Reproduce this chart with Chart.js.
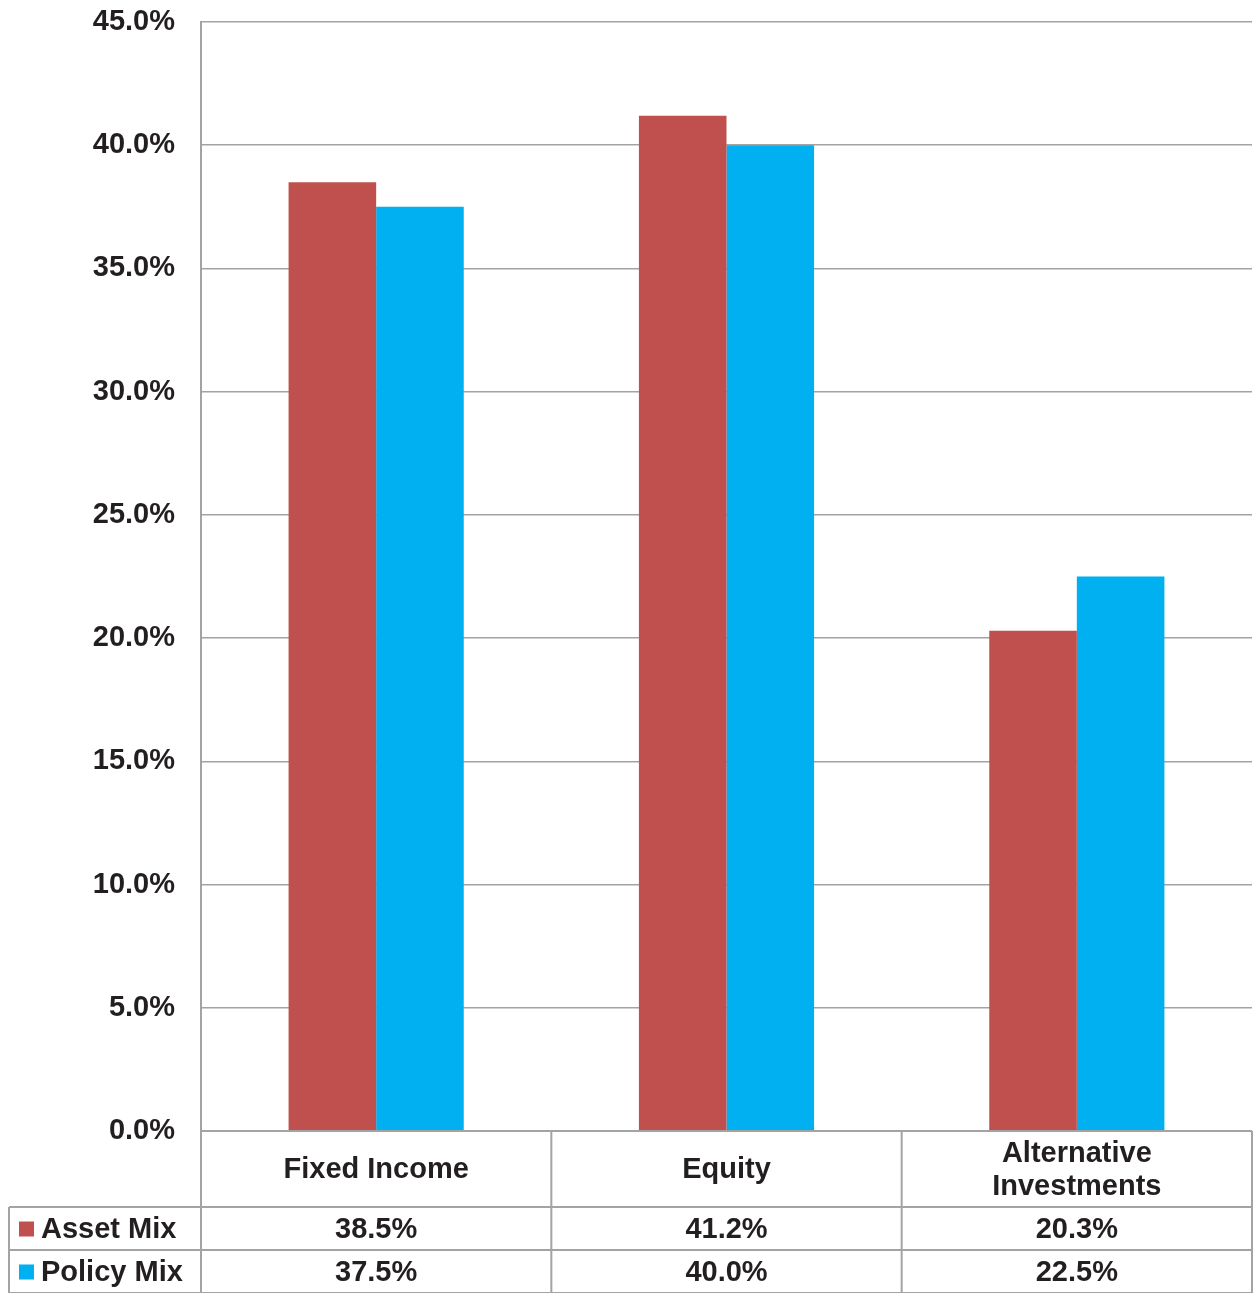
<!DOCTYPE html>
<html>
<head>
<meta charset="utf-8">
<script src="https://cdn.jsdelivr.net/npm/chart.js@4.4.1/dist/chart.umd.min.js"></script>
<style>
html,body{margin:0;padding:0;background:#fff;}
#wrap{position:relative;width:1257px;height:1293px;}
</style>
</head>
<body>
<div id="wrap"><canvas id="c"></canvas></div>
<script>
const categories = [["Fixed Income"], ["Equity"], ["Alternative", "Investments"]];
const seriesNames = ["Asset Mix", "Policy Mix"];
const assetMix = [38.5, 41.2, 20.3];
const policyMix = [37.5, 40.0, 22.5];
const seriesColors = ["#C0504D", "#00B0F0"];
const yMin = 0, yMax = 45, yStep = 5;

const FONT = "bold 29px 'Liberation Sans', Arial, sans-serif";
const TEXT = "#231F20";
const LINE = "#A3A3A3";

const tablePlugin = {
  id: 'dataTable',
  afterDraw(chart) {
    const ctx = chart.ctx;
    const area = chart.chartArea;
    const x = chart.scales.x;
    const top = area.bottom;
    const headerH = 76, rowH = 43;
    const leftX = 9;
    const rows = [assetMix, policyMix];
    const bottom = top + headerH + rowH * 2;
    const catW = (area.right - area.left) / categories.length;
    ctx.save();
    ctx.strokeStyle = LINE;
    ctx.lineWidth = 2;
    ctx.beginPath();
    ctx.moveTo(area.left, top); ctx.lineTo(area.right, top);
    for (let r = 0; r < 3; r++) {
      const y = top + headerH + r * rowH;
      ctx.moveTo(leftX, y); ctx.lineTo(area.right, y);
    }
    for (let i = 0; i <= categories.length; i++) {
      const vx = area.left + i * catW;
      ctx.moveTo(vx, top); ctx.lineTo(vx, bottom);
    }
    ctx.moveTo(leftX, top + headerH); ctx.lineTo(leftX, bottom);
    ctx.stroke();

    ctx.fillStyle = TEXT;
    ctx.font = FONT;
    ctx.textAlign = 'center';
    ctx.textBaseline = 'middle';
    categories.forEach((lines, i) => {
      const cx = x.getPixelForValue(i);
      const cy = top + headerH / 2 + 1;
      const lh = 33;
      lines.forEach((t, k) => {
        ctx.fillText(t, cx, cy + (k - (lines.length - 1) / 2) * lh);
      });
    });
    rows.forEach((vals, r) => {
      const cy = top + headerH + r * rowH + rowH / 2 + 1;
      vals.forEach((v, i) => {
        ctx.fillText(v.toFixed(1) + '%', x.getPixelForValue(i), cy);
      });
      ctx.fillStyle = seriesColors[r];
      ctx.fillRect(19, cy - 8, 15, 15);
      ctx.fillStyle = TEXT;
      ctx.textAlign = 'left';
      ctx.fillText(seriesNames[r], 41, cy);
      ctx.textAlign = 'center';
    });
    ctx.restore();
  }
};

new Chart(document.getElementById('c'), {
  type: 'bar',
  data: {
    labels: categories.map(c => c.join(' ')),
    datasets: [
      { label: seriesNames[0], data: assetMix, backgroundColor: seriesColors[0], categoryPercentage: 0.5, barPercentage: 1.0 },
      { label: seriesNames[1], data: policyMix, backgroundColor: seriesColors[1], categoryPercentage: 0.5, barPercentage: 1.0 }
    ]
  },
  options: {
    responsive: true,
    maintainAspectRatio: false,
    animation: false,
    layout: { padding: { left: 0, right: 5, top: 22, bottom: 162 } },
    plugins: { legend: { display: false }, tooltip: { enabled: false } },
    scales: {
      x: { display: false },
      y: {
        min: yMin, max: yMax,
        afterFit(scale) { scale.width = 201; scale.paddingTop = 0; scale.paddingBottom = 0; },
        ticks: {
          stepSize: yStep,
          padding: 26,
          color: TEXT,
          font: { family: "'Liberation Sans', Arial, sans-serif", size: 29, weight: 'bold' },
          callback: v => v.toFixed(1) + '%'
        },
        grid: { color: LINE, lineWidth: 1.5, drawTicks: false },
        border: { display: true, color: LINE, width: 2 }
      }
    }
  },
  plugins: [tablePlugin]
});
</script>
</body>
</html>
